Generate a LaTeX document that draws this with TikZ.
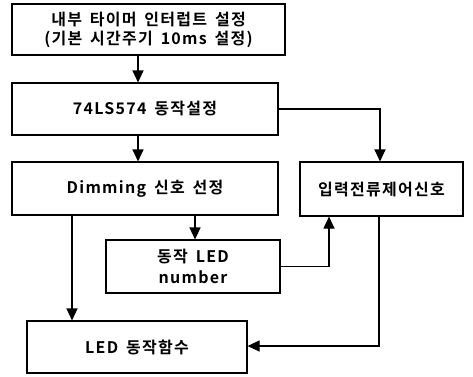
\documentclass[tikz,border=0pt]{standalone}
\usepackage{fontspec}
\setmainfont{Noto Sans CJK KR}[BoldFont={* Bold},LetterSpace=8,WordSpace=1.6]
\usetikzlibrary{arrows.meta}
\begin{document}
\begin{tikzpicture}[x=1pt,y=-1pt,
  box/.style={draw,line width=1.1pt,inner sep=0pt,font=\bfseries\fontsize{16}{19}\selectfont,align=center},
  conn/.style={draw,line width=1.1pt},
  arr/.style={conn,-{Triangle[width=11pt,length=12pt]}}]
\useasboundingbox (0,0) rectangle (473,376);
\node[box,minimum width=273pt,minimum height=51pt] (b1) at (148.5,29.5) {내부 타이머 인터럽트 설정\\(기본 시간주기 10ms 설정)};
\node[box,minimum width=266pt,minimum height=52pt] (b2) at (145,109) {74LS574 동작설정};
\node[box,minimum width=266pt,minimum height=53pt] (b3) at (145,188.5) {Dimming 신호 선정};
\node[box,minimum width=163pt,minimum height=54pt] (b4) at (381.5,189) {입력전류제어신호};
\node[box,minimum width=174pt,minimum height=53pt,font=\bfseries\fontsize{16}{21}\selectfont] (b5) at (193,266.5) {동작 LED\\number};
\node[box,minimum width=220pt,minimum height=52pt] (b6) at (137,347) {LED 동작함수};
\coordinate (xa) at (138,0);
\coordinate (xb) at (195,0);
\coordinate (xc) at (72,0);
\coordinate (xd) at (380,0);
\coordinate (xe) at (329,0);
\coordinate (xf) at (379,0);
\coordinate (ya) at (0,346);
\draw[arr] (b1.south -| xa) -- (b2.north -| xa);
\draw[arr] (b2.south -| xa) -- (b3.north -| xa);
\draw[arr] (b2.east) -| (b4.north -| xd);
\draw[arr] (b3.south -| xb) -- (b5.north -| xb);
\draw[arr] (b3.south -| xc) -- (b6.north -| xc);
\draw[arr] (b5.east) -| (b4.south -| xe);
\draw[arr] (b4.south -| xf) |- (b6.east |- ya);
\end{tikzpicture}
\end{document}
